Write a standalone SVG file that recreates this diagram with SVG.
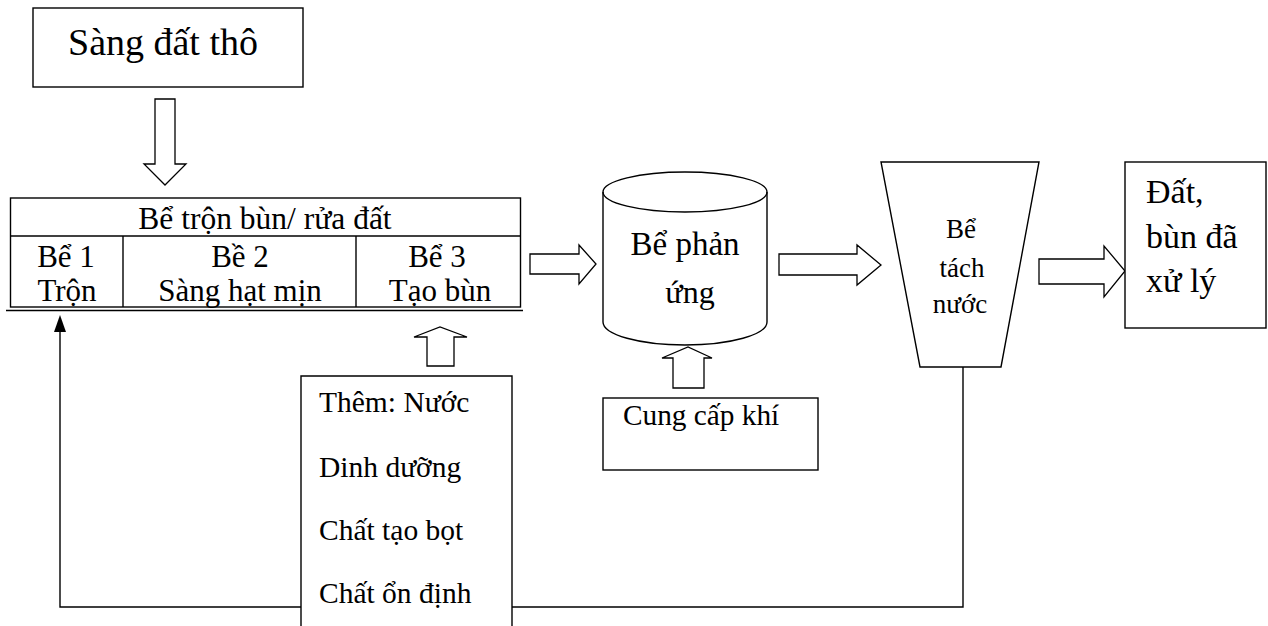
<svg xmlns="http://www.w3.org/2000/svg" width="1268" height="626" viewBox="0 0 1268 626">
<style>
.s{fill:#fff;stroke:#000;stroke-width:1.4}
.l{fill:none;stroke:#000;stroke-width:1.4}
.a{fill:#fff;stroke:#000;stroke-width:1.3;stroke-linejoin:miter}
text{font-family:"Liberation Serif","Times New Roman",serif;fill:#000}
.m{text-anchor:middle}
</style>
<rect width="1268" height="626" fill="#fff"/>

<g id="connectors">
<polygon class="a" points="155,99 175,99 175,164 186,164 165,185 144,164 155,164"/>
<polygon class="a" points="530,254 579,254 579,245 596,264 579,284 579,274 530,274"/>
<polygon class="a" points="779,254 857,254 857,245 881,265 857,285 857,275 779,275"/>
<polygon class="a" points="1039,259 1104,259 1104,246 1125,271 1104,297 1104,284 1039,284"/>
<polygon class="a" points="427,366 427,337 414,337 440,327 467,337 454,337 454,366"/>
<polygon class="a" points="673,388 673,358 662,358 688,347 712,358 704,358 704,388"/>
<polyline class="l" points="301,607 60,607 60,332"/>
<path d="M54,332 L60,315 L66,332 Z" fill="#000"/>
<polyline class="l" points="512,607 963,607 963,367"/>
</g>

<g id="node-sang">
<rect class="s" x="33" y="8" width="270" height="79"/>
<text class="m" x="163" y="55" font-size="38">Sàng đất thô</text>
</g>

<g id="node-tron">
<rect class="s" x="10.5" y="198" width="510" height="109"/>
<line class="l" x1="10.5" y1="236" x2="520.5" y2="236"/>
<line class="l" x1="123" y1="236" x2="123" y2="307"/>
<line class="l" x1="356" y1="236" x2="356" y2="307"/>
<line class="l" x1="6" y1="310.5" x2="523" y2="310.5"/>
<text class="m" x="265" y="229" font-size="31.5">Bể trộn bùn/ rửa đất</text>
<text class="m" x="66" y="267" font-size="31">Bể 1</text>
<text class="m" x="67" y="301" font-size="31">Trộn</text>
<text class="m" x="240" y="267" font-size="31">Bề 2</text>
<text class="m" x="240" y="301" font-size="31">Sàng hạt mịn</text>
<text class="m" x="437" y="267" font-size="31">Bể 3</text>
<text class="m" x="440" y="301" font-size="31">Tạo bùn</text>
</g>

<g id="node-phanung">
<path class="s" d="M603,192 L603,322 A82,23 0 0 0 767,322 L767,192 A82,20 0 0 0 603,192 Z"/>
<path class="l" d="M603,192 A82,20 0 0 0 767,192"/>
<text class="m" x="685" y="255" font-size="33">Bể phản</text>
<text class="m" x="690" y="303" font-size="32">ứng</text>
</g>

<g id="node-khi">
<rect class="s" x="603" y="398" width="215" height="72"/>
<text x="623" y="425" font-size="29.3">Cung cấp khí</text>
</g>

<g id="node-tach">
<polygon class="s" points="881,162 1039,162 1001,367 920,367"/>
<text class="m" x="961" y="238" font-size="27">Bể</text>
<text class="m" x="962" y="277" font-size="27">tách</text>
<text class="m" x="960" y="313" font-size="27">nước</text>
</g>

<g id="node-dat">
<rect class="s" x="1125" y="162" width="141" height="166"/>
<text x="1146" y="203" font-size="34">Đất,</text>
<text x="1146" y="248" font-size="34">bùn đã</text>
<text x="1146" y="292" font-size="34">xử lý</text>
</g>

<g id="node-them">
<polyline class="s" points="301,626 301,376 512,376 512,626"/>
<text x="319" y="412" font-size="29.5">Thêm: Nước</text>
<text x="319" y="477" font-size="29.5">Dinh dưỡng</text>
<text x="319" y="540" font-size="29.5">Chất tạo bọt</text>
<text x="319" y="603" font-size="29.5">Chất ổn định</text>
</g>
</svg>
